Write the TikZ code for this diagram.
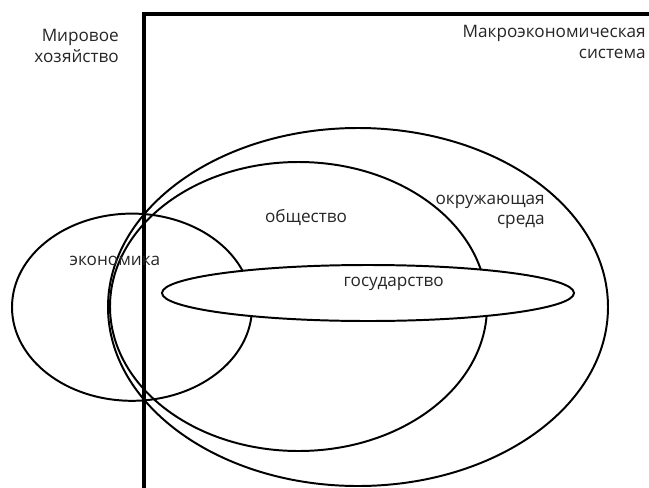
\documentclass[tikz,border=0pt]{standalone}
\usepackage{fontspec}
\setmainfont{Open Sans}
\usepackage{tikz}
\usetikzlibrary{positioning}
\definecolor{ink1}{HTML}{000000}
\definecolor{label1}{HTML}{262626}

\begin{document}
\begin{tikzpicture}[
    ring/.style={draw=ink1, line width=1.4pt},
    border/.style={draw=ink1, line width=2.9pt, line join=miter},
    lbl/.style={text=label1, inner sep=0pt,
                font=\fontsize{12.2}{14.4}\selectfont},
]
\useasboundingbox (0,0) rectangle (16.225,-12.175);

\draw[ring] (3.3,-7.68) ellipse [x radius=3, y radius=2.34];
\draw[ring] (8.95,-7.675) ellipse [x radius=6.25, y radius=4.475];
\draw[ring] (7.4625,-7.6625) ellipse [x radius=4.7125, y radius=3.6125];
\draw[ring, fill=white] (9.2,-7.325) ellipse [x radius=5.15, y radius=0.7];

\coordinate (corner) at (3.6,-0.35);
\coordinate (topend) at (16.3,-0.35);
\coordinate (botend) at (3.6,-12.3);
\draw[border] (topend) -- (corner) -- (botend);

\node[lbl, align=right, anchor=east] (world) at (2.975,-1.15) {Мировое\\хозяйство};
\node[lbl, align=right, anchor=east] (macro) at (16.15,-1.05) {Макроэкономическая\\система};
\node[lbl] (society) at (7.65,-5.45) {общество};
\node[lbl, align=right, anchor=east] (environ) at (13.625,-5.3) {окружающая\\среда};
\node[lbl] (economy) at (2.875,-6.525) {экономика};
\node[lbl] (state) at (9.84,-7.1) {государство};
\end{tikzpicture}
\end{document}
